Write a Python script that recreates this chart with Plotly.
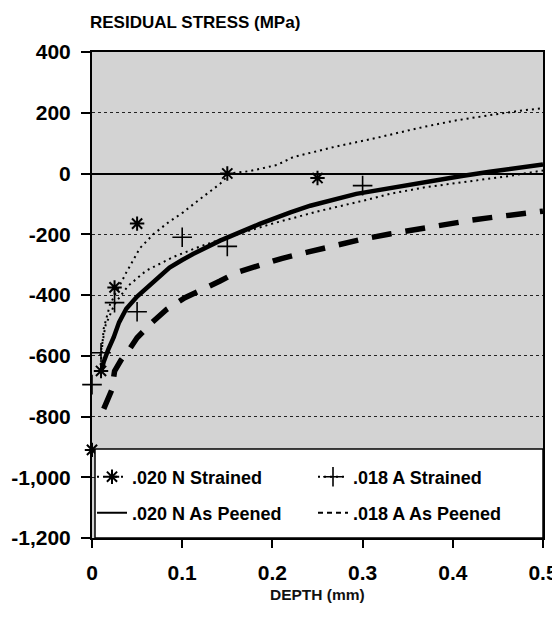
import plotly.graph_objects as go

# ---------------- data ----------------
# .020 N Strained (measured points, asterisks)
n_str_x = [0.0, 0.01, 0.025, 0.05, 0.15, 0.25]
n_str_y = [-910, -650, -375, -165, 0, -15]

# .018 A Strained (measured points, plus signs)
a_str_x = [0.0, 0.01, 0.025, 0.05, 0.10, 0.15, 0.30]
a_str_y = [-695, -590, -425, -455, -210, -240, -40]

# dotted curve through .020 N Strained
n_str_fit_x = [0.009, 0.013, 0.02, 0.03, 0.038, 0.053, 0.068, 0.085, 0.101, 0.115, 0.127,
               0.142, 0.153, 0.175, 0.205, 0.223, 0.268, 0.312, 0.367, 0.404, 0.441, 0.478, 0.5]
n_str_fit_y = [-650, -510, -431, -370, -326, -246, -200, -160, -128, -95, -67,
               -34, 0, 8, 28, 54, 87, 115, 153, 175, 192, 208, 215]

# dotted curve through .018 A Strained
a_str_fit_x = [0.009, 0.015, 0.025, 0.04, 0.06, 0.09, 0.12, 0.15, 0.2, 0.25, 0.3, 0.33,
               0.37, 0.404, 0.43, 0.463, 0.5]
a_str_fit_y = [-600, -500, -430, -370, -320, -275, -240, -210, -165, -125, -90, -67,
               -45, -32, -22, -8, 10]

# .020 N As Peened (solid)
n_peen_x = [0.0105, 0.013, 0.018, 0.024, 0.03, 0.038, 0.05, 0.061, 0.075, 0.086, 0.1, 0.112,
            0.142, 0.186, 0.22, 0.242, 0.293, 0.34, 0.367, 0.41, 0.441, 0.486, 0.5]
n_peen_y = [-650, -620, -580, -540, -490, -445, -405, -376, -340, -310, -285, -265,
            -221, -166, -128, -106, -67, -42, -28, -8, 6, 26, 30]

# .018 A As Peened (dashed)
a_peen_x = [0.013, 0.018, 0.022, 0.025, 0.032, 0.04, 0.05, 0.066, 0.083, 0.103, 0.12, 0.142,
            0.16, 0.186, 0.21, 0.24, 0.27, 0.3, 0.33, 0.36, 0.39, 0.42, 0.45, 0.48, 0.5]
a_peen_y = [-775, -735, -712, -651, -615, -585, -541, -492, -447, -409, -387, -354,
            -326, -300, -280, -258, -236, -216, -199, -183, -168, -154, -142, -130, -124]

y_tickvals = [400, 200, 0, -200, -400, -600, -800, -1000, -1200]
y_ticktext = ["400", "200", "0", "-200", "-400", "-600", "-800", "-1,000", "-1,200"]
x_tickvals = [0, 0.1, 0.2, 0.3, 0.4, 0.5]
x_ticktext = ["0", "0.1", "0.2", "0.3", "0.4", "0.5"]

labels = [".020 N Strained", ".018 A Strained", ".020 N As Peened", ".018 A As Peened"]

# ---------------- figure ----------------
FONT = "Liberation Sans"
fig = go.Figure()

dotted = dict(color="black", width=2, dash="2px,4px")
star = dict(symbol="asterisk-open", size=12, line=dict(color="black", width=2), color="black")
plus = dict(symbol="cross-thin-open", size=14, line=dict(color="black", width=1.6), color="black")

fig.add_trace(go.Scatter(x=n_str_fit_x, y=n_str_fit_y, mode="lines", line=dotted,
                         showlegend=False, hoverinfo="skip"))
fig.add_trace(go.Scatter(x=a_str_fit_x, y=a_str_fit_y, mode="lines", line=dotted,
                         showlegend=False, hoverinfo="skip"))
fig.add_trace(go.Scatter(x=n_peen_x, y=n_peen_y, mode="lines",
                         line=dict(color="black", width=4.5), showlegend=False))
fig.add_trace(go.Scatter(x=a_peen_x, y=a_peen_y, mode="lines",
                         line=dict(color="black", width=5.5, dash="20px,14px"), showlegend=False))
fig.add_trace(go.Scatter(x=n_str_x, y=n_str_y, mode="markers", marker=star,
                         showlegend=False, cliponaxis=False))
fig.add_trace(go.Scatter(x=a_str_x, y=a_str_y, mode="markers", marker=plus,
                         showlegend=False, cliponaxis=False))

# legend entries
fig.add_trace(go.Scatter(x=[None], y=[None], mode="lines+markers", line=dotted, marker=star,
                         name=labels[0], legend="legend"))
fig.add_trace(go.Scatter(x=[None], y=[None], mode="lines+markers", line=dotted, marker=plus,
                         name=labels[1], legend="legend"))
fig.add_trace(go.Scatter(x=[None], y=[None], mode="lines",
                         line=dict(color="black", width=2), name=labels[2], legend="legend2"))
fig.add_trace(go.Scatter(x=[None], y=[None], mode="lines",
                         line=dict(color="black", width=2, dash="5px,4px"),
                         name=labels[3], legend="legend2"))

# page body has an 8px margin, so the figure is shifted by 8px; compensate
OFF = 8
W, H = 560 - OFF, 621 - OFF
L, T = 92 - OFF, 52 - OFF
R = W - (543 - OFF)
B = H - (538 - OFF)
PH = H - T - B  # plot height (px)
PW = W - L - R

legend_common = dict(orientation="h", xanchor="left", yanchor="middle",
                     bgcolor="rgba(0,0,0,0)", borderwidth=0, entrywidth=176,
                     font=dict(family=FONT, size=18, color="black", weight="bold"),
                     itemwidth=30)
fig.update_layout(
    legend=dict(x=0.0, y=(538 - 477) / PH, **legend_common),
    legend2=dict(x=0.0, y=(538 - 513) / PH, **legend_common),
)

# legend box
fig.add_shape(type="rect", xref="paper", yref="paper", x0=3 / PW, x1=1, y0=0,
              y1=(538 - 449) / PH, fillcolor="white", line=dict(color="black", width=1.5),
              layer="above")

fig.update_layout(
    width=W, height=H,
    margin=dict(l=L, r=R, t=T, b=B, autoexpand=False),
    paper_bgcolor="white",
    plot_bgcolor="#d3d3d3",
    font=dict(family=FONT, color="black"),
    showlegend=True,
    xaxis=dict(range=[0, 0.5], tickvals=x_tickvals, ticktext=x_ticktext, automargin=False,
               showgrid=False, zeroline=False, showline=True, linecolor="black",
               linewidth=2, mirror=True, ticks="outside", ticklen=8, tickwidth=1.5,
               tickcolor="black", ticklabelstandoff=7,
               tickfont=dict(family=FONT, size=21, color="black", weight="bold")),
    yaxis=dict(range=[-1200, 400], tickvals=y_tickvals, ticktext=y_ticktext, automargin=False,
               showgrid=True, gridcolor="#222222", gridwidth=1, griddash="dot",
               zeroline=True, zerolinecolor="black", zerolinewidth=1.5,
               showline=True, linecolor="black", linewidth=2, mirror=True,
               ticks="outside", ticklen=9, tickwidth=1.5, tickcolor="black",
               ticklabelstandoff=6,
               tickfont=dict(family=FONT, size=21, color="black", weight="bold")),
    annotations=[
        dict(text="RESIDUAL STRESS (MPa)", xref="paper", yref="paper", x=0, y=1,
             xanchor="left", yanchor="middle", xshift=-4, yshift=30, showarrow=False,
             font=dict(family=FONT, size=17, color="black", weight="bold")),
        dict(text="DEPTH (mm)", xref="paper", yref="paper", x=0.5, y=0,
             xanchor="center", yanchor="middle", yshift=-56, showarrow=False,
             font=dict(family=FONT, size=15.5, color="#111111", weight="bold")),
    ],
)

fig.write_html("out.html")
